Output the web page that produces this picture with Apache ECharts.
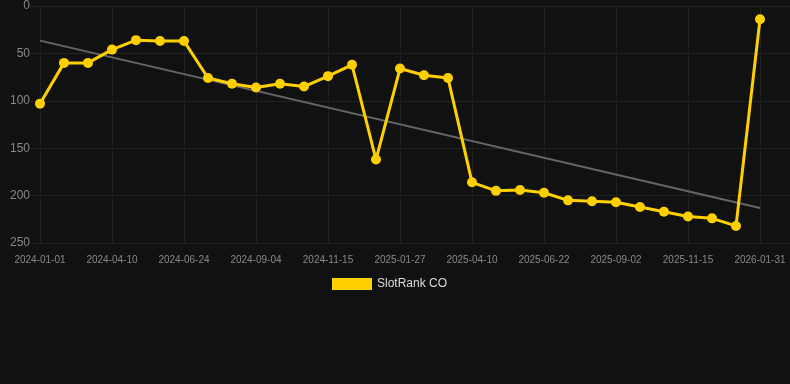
<!DOCTYPE html>
<html>
<head>
<meta charset="utf-8">
<script src="https://cdn.jsdelivr.net/npm/echarts@6/dist/echarts.min.js"></script>
<style>
html,body{margin:0;padding:0;background:#111111;}
#c{width:790px;height:384px;}
</style>
</head>
<body>
<div id="c"></div>
<script>
const categories = ['2024-01-01','2024-02-03','2024-03-07','2024-04-10','2024-05-05','2024-05-30','2024-06-24','2024-07-18','2024-08-11','2024-09-04','2024-09-28','2024-10-22','2024-11-15','2024-12-10','2025-01-03','2025-01-27','2025-02-20','2025-03-16','2025-04-10','2025-05-04','2025-05-28','2025-06-22','2025-07-16','2025-08-09','2025-09-02','2025-09-27','2025-10-21','2025-11-15','2025-12-10','2026-01-05','2026-01-31'];
const rankValues = [103,60,60,46,36,37,37,76,82,86,82,85,74,62,162,66,73,76,186,195,194,197,205,206,207,212,217,222,224,232,14];
const trendEnds = [36.5, 213];
const seriesName = 'SlotRank CO';
const yTicks = [0, 250, 50];

const trendData = categories.map((c, i) => i === 0 ? trendEnds[0] : (i === categories.length - 1 ? trendEnds[1] : null));

const chart = echarts.init(document.getElementById('c'));
chart.setOption({
  backgroundColor: '#111111',
  animation: false,
  legend: {
    data: [{name: seriesName, icon: 'rect'}],
    top: 273, left: 327,
    itemWidth: 40, itemHeight: 12, itemGap: 6,
    textStyle: {color: '#dddddd', fontSize: 12, fontFamily: 'Liberation Sans, Arial, sans-serif'}
  },
  grid: [
    {left: 40, right: 30, top: 6, bottom: 141, containLabel: false},
    {left: 30, right: 0, top: 6, bottom: 141, containLabel: false}
  ],
  xAxis: [
    {
      type: 'category', data: categories, boundaryGap: false, gridIndex: 0,
      axisLine: {show: false}, axisTick: {show: false},
      axisLabel: {color: '#888888', fontSize: 10, interval: 2, margin: 12, fontFamily: 'Liberation Sans, Arial, sans-serif'},
      splitLine: {show: true, interval: 2, lineStyle: {color: '#1f1f1f', width: 1}}
    },
    {type: 'value', gridIndex: 1, show: false, min: 0, max: 1}
  ],
  yAxis: [
    {
      type: 'value', inverse: true, min: yTicks[0], max: yTicks[1], interval: yTicks[2], gridIndex: 0,
      axisLine: {show: false}, axisTick: {show: false},
      axisLabel: {color: '#888888', fontSize: 12, margin: 10, fontFamily: 'Liberation Sans, Arial, sans-serif'},
      splitLine: {show: false}
    },
    {
      type: 'value', inverse: true, min: yTicks[0], max: yTicks[1], interval: yTicks[2], gridIndex: 1,
      axisLine: {show: false}, axisTick: {show: false}, axisLabel: {show: false},
      splitLine: {show: true, lineStyle: {color: '#222222', width: 1}}
    }
  ],
  series: [
    {
      name: 'trend', type: 'line', data: trendData, connectNulls: true,
      xAxisIndex: 0, yAxisIndex: 0,
      symbol: 'none', lineStyle: {color: '#666666', width: 2}, z: 1, silent: true
    },
    {
      name: seriesName, type: 'line', data: rankValues,
      xAxisIndex: 0, yAxisIndex: 0,
      symbol: 'circle', symbolSize: 10, showAllSymbol: true,
      itemStyle: {color: '#FFD000'},
      lineStyle: {color: '#FFD000', width: 3}, z: 3
    }
  ]
});
</script>
</body>
</html>
